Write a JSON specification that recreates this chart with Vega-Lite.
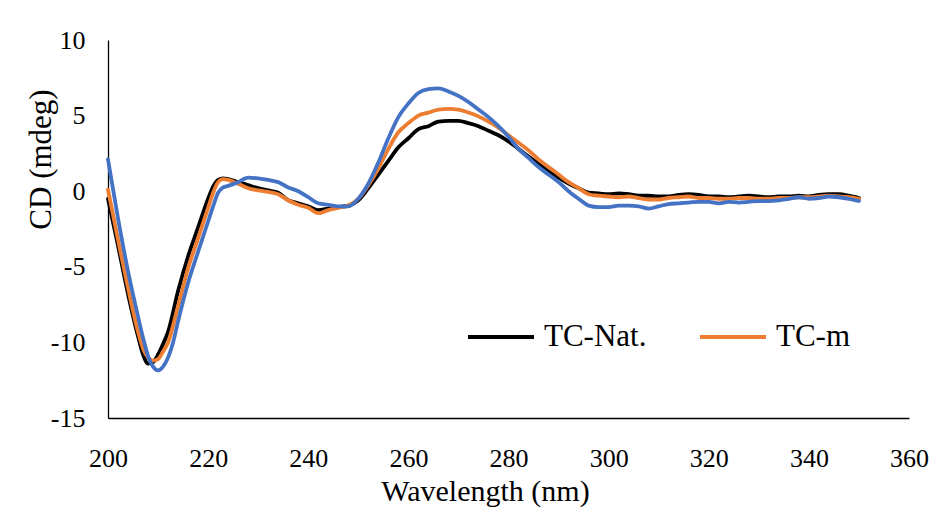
{
  "$schema": "https://vega.github.io/schema/vega-lite/v6.json",
  "autosize": {"type": "none"},
  "width": 801,
  "height": 378,
  "padding": {"left": 108, "top": 40, "right": 28, "bottom": 98},
  "background": "white",
  "config": {"view": {"stroke": null}, "font": "Times New Roman"},
  "data": {
    "values": [
      {"nm": 200, "sample": "TC-Nat.", "cd": -0.5}, {"nm": 202, "sample": "TC-Nat.", "cd": -3.6}, {"nm": 204, "sample": "TC-Nat.", "cd": -6.8},
      {"nm": 206, "sample": "TC-Nat.", "cd": -9.6}, {"nm": 207, "sample": "TC-Nat.", "cd": -10.8}, {"nm": 208, "sample": "TC-Nat.", "cd": -11.4},
      {"nm": 209, "sample": "TC-Nat.", "cd": -11.3}, {"nm": 210, "sample": "TC-Nat.", "cd": -10.8}, {"nm": 211, "sample": "TC-Nat.", "cd": -10.1},
      {"nm": 212, "sample": "TC-Nat.", "cd": -9.3}, {"nm": 214, "sample": "TC-Nat.", "cd": -6.6}, {"nm": 216, "sample": "TC-Nat.", "cd": -4.3},
      {"nm": 218, "sample": "TC-Nat.", "cd": -2.4}, {"nm": 220, "sample": "TC-Nat.", "cd": -0.5}, {"nm": 221, "sample": "TC-Nat.", "cd": 0.3},
      {"nm": 222, "sample": "TC-Nat.", "cd": 0.75}, {"nm": 223, "sample": "TC-Nat.", "cd": 0.85}, {"nm": 224, "sample": "TC-Nat.", "cd": 0.8},
      {"nm": 226, "sample": "TC-Nat.", "cd": 0.6}, {"nm": 228, "sample": "TC-Nat.", "cd": 0.4}, {"nm": 230, "sample": "TC-Nat.", "cd": 0.2},
      {"nm": 232, "sample": "TC-Nat.", "cd": 0.05}, {"nm": 234, "sample": "TC-Nat.", "cd": -0.1}, {"nm": 236, "sample": "TC-Nat.", "cd": -0.6},
      {"nm": 238, "sample": "TC-Nat.", "cd": -0.8}, {"nm": 240, "sample": "TC-Nat.", "cd": -1.0}, {"nm": 242, "sample": "TC-Nat.", "cd": -1.25},
      {"nm": 244, "sample": "TC-Nat.", "cd": -1.15}, {"nm": 246, "sample": "TC-Nat.", "cd": -1.05}, {"nm": 248, "sample": "TC-Nat.", "cd": -0.95},
      {"nm": 250, "sample": "TC-Nat.", "cd": -0.6}, {"nm": 252, "sample": "TC-Nat.", "cd": 0.2}, {"nm": 254, "sample": "TC-Nat.", "cd": 1.1},
      {"nm": 256, "sample": "TC-Nat.", "cd": 2.0}, {"nm": 258, "sample": "TC-Nat.", "cd": 2.9}, {"nm": 260, "sample": "TC-Nat.", "cd": 3.5},
      {"nm": 262, "sample": "TC-Nat.", "cd": 4.1}, {"nm": 264, "sample": "TC-Nat.", "cd": 4.3}, {"nm": 266, "sample": "TC-Nat.", "cd": 4.6},
      {"nm": 268, "sample": "TC-Nat.", "cd": 4.65}, {"nm": 270, "sample": "TC-Nat.", "cd": 4.65}, {"nm": 272, "sample": "TC-Nat.", "cd": 4.5},
      {"nm": 274, "sample": "TC-Nat.", "cd": 4.3}, {"nm": 276, "sample": "TC-Nat.", "cd": 4.0}, {"nm": 278, "sample": "TC-Nat.", "cd": 3.7},
      {"nm": 280, "sample": "TC-Nat.", "cd": 3.3}, {"nm": 282, "sample": "TC-Nat.", "cd": 2.8}, {"nm": 284, "sample": "TC-Nat.", "cd": 2.3},
      {"nm": 286, "sample": "TC-Nat.", "cd": 1.8}, {"nm": 288, "sample": "TC-Nat.", "cd": 1.3}, {"nm": 290, "sample": "TC-Nat.", "cd": 0.9},
      {"nm": 292, "sample": "TC-Nat.", "cd": 0.5}, {"nm": 294, "sample": "TC-Nat.", "cd": 0.2}, {"nm": 296, "sample": "TC-Nat.", "cd": -0.1},
      {"nm": 298, "sample": "TC-Nat.", "cd": -0.15}, {"nm": 300, "sample": "TC-Nat.", "cd": -0.2}, {"nm": 302, "sample": "TC-Nat.", "cd": -0.15},
      {"nm": 304, "sample": "TC-Nat.", "cd": -0.2}, {"nm": 306, "sample": "TC-Nat.", "cd": -0.3}, {"nm": 308, "sample": "TC-Nat.", "cd": -0.3},
      {"nm": 310, "sample": "TC-Nat.", "cd": -0.35}, {"nm": 312, "sample": "TC-Nat.", "cd": -0.35}, {"nm": 314, "sample": "TC-Nat.", "cd": -0.25},
      {"nm": 316, "sample": "TC-Nat.", "cd": -0.2}, {"nm": 318, "sample": "TC-Nat.", "cd": -0.25}, {"nm": 320, "sample": "TC-Nat.", "cd": -0.35},
      {"nm": 322, "sample": "TC-Nat.", "cd": -0.35}, {"nm": 324, "sample": "TC-Nat.", "cd": -0.4}, {"nm": 326, "sample": "TC-Nat.", "cd": -0.35},
      {"nm": 328, "sample": "TC-Nat.", "cd": -0.3}, {"nm": 330, "sample": "TC-Nat.", "cd": -0.35}, {"nm": 332, "sample": "TC-Nat.", "cd": -0.4},
      {"nm": 334, "sample": "TC-Nat.", "cd": -0.35}, {"nm": 336, "sample": "TC-Nat.", "cd": -0.35}, {"nm": 338, "sample": "TC-Nat.", "cd": -0.3},
      {"nm": 340, "sample": "TC-Nat.", "cd": -0.35}, {"nm": 342, "sample": "TC-Nat.", "cd": -0.25}, {"nm": 344, "sample": "TC-Nat.", "cd": -0.2},
      {"nm": 346, "sample": "TC-Nat.", "cd": -0.2}, {"nm": 348, "sample": "TC-Nat.", "cd": -0.3}, {"nm": 350, "sample": "TC-Nat.", "cd": -0.45},

      {"nm": 200, "sample": "TC-m", "cd": 0.1}, {"nm": 202, "sample": "TC-m", "cd": -3.2}, {"nm": 204, "sample": "TC-m", "cd": -6.4},
      {"nm": 206, "sample": "TC-m", "cd": -9.3}, {"nm": 207, "sample": "TC-m", "cd": -10.4}, {"nm": 208, "sample": "TC-m", "cd": -11.0},
      {"nm": 209, "sample": "TC-m", "cd": -11.2}, {"nm": 210, "sample": "TC-m", "cd": -11.1}, {"nm": 211, "sample": "TC-m", "cd": -10.6},
      {"nm": 212, "sample": "TC-m", "cd": -10.0}, {"nm": 214, "sample": "TC-m", "cd": -7.6}, {"nm": 216, "sample": "TC-m", "cd": -5.1},
      {"nm": 218, "sample": "TC-m", "cd": -3.1}, {"nm": 220, "sample": "TC-m", "cd": -1.1}, {"nm": 221, "sample": "TC-m", "cd": -0.1},
      {"nm": 222, "sample": "TC-m", "cd": 0.6}, {"nm": 223, "sample": "TC-m", "cd": 0.8}, {"nm": 224, "sample": "TC-m", "cd": 0.75},
      {"nm": 226, "sample": "TC-m", "cd": 0.5}, {"nm": 228, "sample": "TC-m", "cd": 0.2}, {"nm": 230, "sample": "TC-m", "cd": 0.05},
      {"nm": 232, "sample": "TC-m", "cd": -0.05}, {"nm": 234, "sample": "TC-m", "cd": -0.2}, {"nm": 236, "sample": "TC-m", "cd": -0.6},
      {"nm": 238, "sample": "TC-m", "cd": -0.9}, {"nm": 240, "sample": "TC-m", "cd": -1.1}, {"nm": 242, "sample": "TC-m", "cd": -1.45},
      {"nm": 244, "sample": "TC-m", "cd": -1.25}, {"nm": 246, "sample": "TC-m", "cd": -1.1}, {"nm": 248, "sample": "TC-m", "cd": -0.95},
      {"nm": 250, "sample": "TC-m", "cd": -0.5}, {"nm": 252, "sample": "TC-m", "cd": 0.4}, {"nm": 254, "sample": "TC-m", "cd": 1.5},
      {"nm": 256, "sample": "TC-m", "cd": 2.8}, {"nm": 258, "sample": "TC-m", "cd": 3.9}, {"nm": 260, "sample": "TC-m", "cd": 4.5},
      {"nm": 262, "sample": "TC-m", "cd": 5.0}, {"nm": 264, "sample": "TC-m", "cd": 5.2}, {"nm": 266, "sample": "TC-m", "cd": 5.4},
      {"nm": 268, "sample": "TC-m", "cd": 5.45}, {"nm": 270, "sample": "TC-m", "cd": 5.4}, {"nm": 272, "sample": "TC-m", "cd": 5.2},
      {"nm": 274, "sample": "TC-m", "cd": 4.95}, {"nm": 276, "sample": "TC-m", "cd": 4.6}, {"nm": 278, "sample": "TC-m", "cd": 4.2},
      {"nm": 280, "sample": "TC-m", "cd": 3.7}, {"nm": 282, "sample": "TC-m", "cd": 3.2}, {"nm": 284, "sample": "TC-m", "cd": 2.7},
      {"nm": 286, "sample": "TC-m", "cd": 2.1}, {"nm": 288, "sample": "TC-m", "cd": 1.6}, {"nm": 290, "sample": "TC-m", "cd": 1.1},
      {"nm": 292, "sample": "TC-m", "cd": 0.6}, {"nm": 294, "sample": "TC-m", "cd": 0.2}, {"nm": 296, "sample": "TC-m", "cd": -0.2},
      {"nm": 298, "sample": "TC-m", "cd": -0.3}, {"nm": 300, "sample": "TC-m", "cd": -0.35}, {"nm": 302, "sample": "TC-m", "cd": -0.4},
      {"nm": 304, "sample": "TC-m", "cd": -0.35}, {"nm": 306, "sample": "TC-m", "cd": -0.45}, {"nm": 308, "sample": "TC-m", "cd": -0.55},
      {"nm": 310, "sample": "TC-m", "cd": -0.55}, {"nm": 312, "sample": "TC-m", "cd": -0.45}, {"nm": 314, "sample": "TC-m", "cd": -0.4},
      {"nm": 316, "sample": "TC-m", "cd": -0.35}, {"nm": 318, "sample": "TC-m", "cd": -0.45}, {"nm": 320, "sample": "TC-m", "cd": -0.45},
      {"nm": 322, "sample": "TC-m", "cd": -0.5}, {"nm": 324, "sample": "TC-m", "cd": -0.5}, {"nm": 326, "sample": "TC-m", "cd": -0.45},
      {"nm": 328, "sample": "TC-m", "cd": -0.45}, {"nm": 330, "sample": "TC-m", "cd": -0.5}, {"nm": 332, "sample": "TC-m", "cd": -0.5},
      {"nm": 334, "sample": "TC-m", "cd": -0.45}, {"nm": 336, "sample": "TC-m", "cd": -0.45}, {"nm": 338, "sample": "TC-m", "cd": -0.4},
      {"nm": 340, "sample": "TC-m", "cd": -0.4}, {"nm": 342, "sample": "TC-m", "cd": -0.35}, {"nm": 344, "sample": "TC-m", "cd": -0.3},
      {"nm": 346, "sample": "TC-m", "cd": -0.35}, {"nm": 348, "sample": "TC-m", "cd": -0.4}, {"nm": 350, "sample": "TC-m", "cd": -0.5},

      {"nm": 200, "sample": "TC-3", "cd": 2.1}, {"nm": 202, "sample": "TC-3", "cd": -1.8}, {"nm": 204, "sample": "TC-3", "cd": -5.3},
      {"nm": 206, "sample": "TC-3", "cd": -8.3}, {"nm": 207, "sample": "TC-3", "cd": -9.7}, {"nm": 208, "sample": "TC-3", "cd": -10.9},
      {"nm": 209, "sample": "TC-3", "cd": -11.6}, {"nm": 210, "sample": "TC-3", "cd": -11.85}, {"nm": 211, "sample": "TC-3", "cd": -11.6},
      {"nm": 212, "sample": "TC-3", "cd": -11.0}, {"nm": 213, "sample": "TC-3", "cd": -10.0}, {"nm": 214, "sample": "TC-3", "cd": -8.6},
      {"nm": 216, "sample": "TC-3", "cd": -6.05}, {"nm": 218, "sample": "TC-3", "cd": -4.0}, {"nm": 220, "sample": "TC-3", "cd": -2.0},
      {"nm": 221, "sample": "TC-3", "cd": -1.0}, {"nm": 222, "sample": "TC-3", "cd": -0.1}, {"nm": 223, "sample": "TC-3", "cd": 0.25},
      {"nm": 224, "sample": "TC-3", "cd": 0.35}, {"nm": 226, "sample": "TC-3", "cd": 0.6}, {"nm": 228, "sample": "TC-3", "cd": 0.9},
      {"nm": 230, "sample": "TC-3", "cd": 0.85}, {"nm": 232, "sample": "TC-3", "cd": 0.75}, {"nm": 234, "sample": "TC-3", "cd": 0.6},
      {"nm": 236, "sample": "TC-3", "cd": 0.25}, {"nm": 238, "sample": "TC-3", "cd": 0.0}, {"nm": 240, "sample": "TC-3", "cd": -0.4},
      {"nm": 242, "sample": "TC-3", "cd": -0.8}, {"nm": 244, "sample": "TC-3", "cd": -0.9}, {"nm": 246, "sample": "TC-3", "cd": -1.0},
      {"nm": 248, "sample": "TC-3", "cd": -1.0}, {"nm": 250, "sample": "TC-3", "cd": -0.5}, {"nm": 252, "sample": "TC-3", "cd": 0.5},
      {"nm": 254, "sample": "TC-3", "cd": 1.9}, {"nm": 256, "sample": "TC-3", "cd": 3.5}, {"nm": 258, "sample": "TC-3", "cd": 4.9},
      {"nm": 260, "sample": "TC-3", "cd": 5.8}, {"nm": 262, "sample": "TC-3", "cd": 6.5}, {"nm": 264, "sample": "TC-3", "cd": 6.75},
      {"nm": 266, "sample": "TC-3", "cd": 6.8}, {"nm": 268, "sample": "TC-3", "cd": 6.6}, {"nm": 270, "sample": "TC-3", "cd": 6.3},
      {"nm": 272, "sample": "TC-3", "cd": 5.9}, {"nm": 274, "sample": "TC-3", "cd": 5.4}, {"nm": 276, "sample": "TC-3", "cd": 4.9},
      {"nm": 278, "sample": "TC-3", "cd": 4.3}, {"nm": 280, "sample": "TC-3", "cd": 3.6}, {"nm": 282, "sample": "TC-3", "cd": 2.8},
      {"nm": 284, "sample": "TC-3", "cd": 2.2}, {"nm": 286, "sample": "TC-3", "cd": 1.6}, {"nm": 288, "sample": "TC-3", "cd": 1.1},
      {"nm": 290, "sample": "TC-3", "cd": 0.6}, {"nm": 292, "sample": "TC-3", "cd": 0.0}, {"nm": 294, "sample": "TC-3", "cd": -0.5},
      {"nm": 296, "sample": "TC-3", "cd": -0.95}, {"nm": 298, "sample": "TC-3", "cd": -1.05}, {"nm": 300, "sample": "TC-3", "cd": -1.05},
      {"nm": 302, "sample": "TC-3", "cd": -0.95}, {"nm": 304, "sample": "TC-3", "cd": -0.95}, {"nm": 306, "sample": "TC-3", "cd": -1.0},
      {"nm": 308, "sample": "TC-3", "cd": -1.15}, {"nm": 310, "sample": "TC-3", "cd": -1.0}, {"nm": 312, "sample": "TC-3", "cd": -0.85},
      {"nm": 314, "sample": "TC-3", "cd": -0.8}, {"nm": 316, "sample": "TC-3", "cd": -0.75}, {"nm": 318, "sample": "TC-3", "cd": -0.7},
      {"nm": 320, "sample": "TC-3", "cd": -0.7}, {"nm": 322, "sample": "TC-3", "cd": -0.8}, {"nm": 324, "sample": "TC-3", "cd": -0.7},
      {"nm": 326, "sample": "TC-3", "cd": -0.75}, {"nm": 328, "sample": "TC-3", "cd": -0.7}, {"nm": 330, "sample": "TC-3", "cd": -0.65},
      {"nm": 332, "sample": "TC-3", "cd": -0.65}, {"nm": 334, "sample": "TC-3", "cd": -0.6}, {"nm": 336, "sample": "TC-3", "cd": -0.5},
      {"nm": 338, "sample": "TC-3", "cd": -0.4}, {"nm": 340, "sample": "TC-3", "cd": -0.5}, {"nm": 342, "sample": "TC-3", "cd": -0.45},
      {"nm": 344, "sample": "TC-3", "cd": -0.35}, {"nm": 346, "sample": "TC-3", "cd": -0.4}, {"nm": 348, "sample": "TC-3", "cd": -0.5},
      {"nm": 350, "sample": "TC-3", "cd": -0.65}
    ]
  },
  "mark": {"type": "line", "strokeWidth": 3.8, "interpolate": "monotone", "strokeCap": "round", "strokeJoin": "round"},
  "encoding": {
    "x": {
      "field": "nm", "type": "quantitative",
      "scale": {"domain": [200, 360], "nice": false, "zero": false},
      "axis": {
        "title": "Wavelength (nm)",
        "values": [200, 220, 240, 260, 280, 300, 320, 340, 360],
        "ticks": false, "grid": false,
        "domainColor": "#000000", "domainWidth": 1.3,
        "labelFont": "Times New Roman", "labelFontSize": 26, "labelColor": "#000000",
        "labelPadding": 27, "labelFlush": false, "labelOverlap": false,
        "titleFont": "Times New Roman", "titleFontSize": 30, "titleFontWeight": "normal", "titleColor": "#000000",
        "titleX": 377, "titleY": 73, "titleBaseline": "middle", "titleAlign": "center"
      }
    },
    "y": {
      "field": "cd", "type": "quantitative",
      "scale": {"domain": [-15, 10], "nice": false, "zero": false},
      "axis": {
        "title": "CD (mdeg)",
        "values": [-15, -10, -5, 0, 5, 10],
        "labelExpr": "'' + datum.value",
        "ticks": false, "grid": false,
        "domainColor": "#000000", "domainWidth": 1.3,
        "labelFont": "Times New Roman", "labelFontSize": 26, "labelColor": "#000000",
        "labelPadding": 23, "labelFlush": false, "labelOverlap": false,
        "titleFont": "Times New Roman", "titleFontSize": 31, "titleFontWeight": "normal", "titleColor": "#000000",
        "titleX": -67, "titleY": 119, "titleBaseline": "middle", "titleAlign": "center", "titleAngle": -90
      }
    },
    "color": {
      "field": "sample", "type": "nominal",
      "scale": {"domain": ["TC-Nat.", "TC-m", "TC-3"], "range": ["#000000", "#ED7D31", "#4472C4"]},
      "legend": {
        "values": ["TC-Nat.", "TC-m"],
        "title": null,
        "orient": "none", "legendX": 358, "legendY": 262,
        "direction": "horizontal",
        "symbolType": "stroke", "symbolSize": 4356, "symbolStrokeWidth": 4,
        "labelFont": "Times New Roman", "labelFontSize": 31, "labelColor": "#000000",
        "labelOffset": 8, "columnPadding": 45, "padding": 0, "labelLimit": 400
      }
    }
  }
}
